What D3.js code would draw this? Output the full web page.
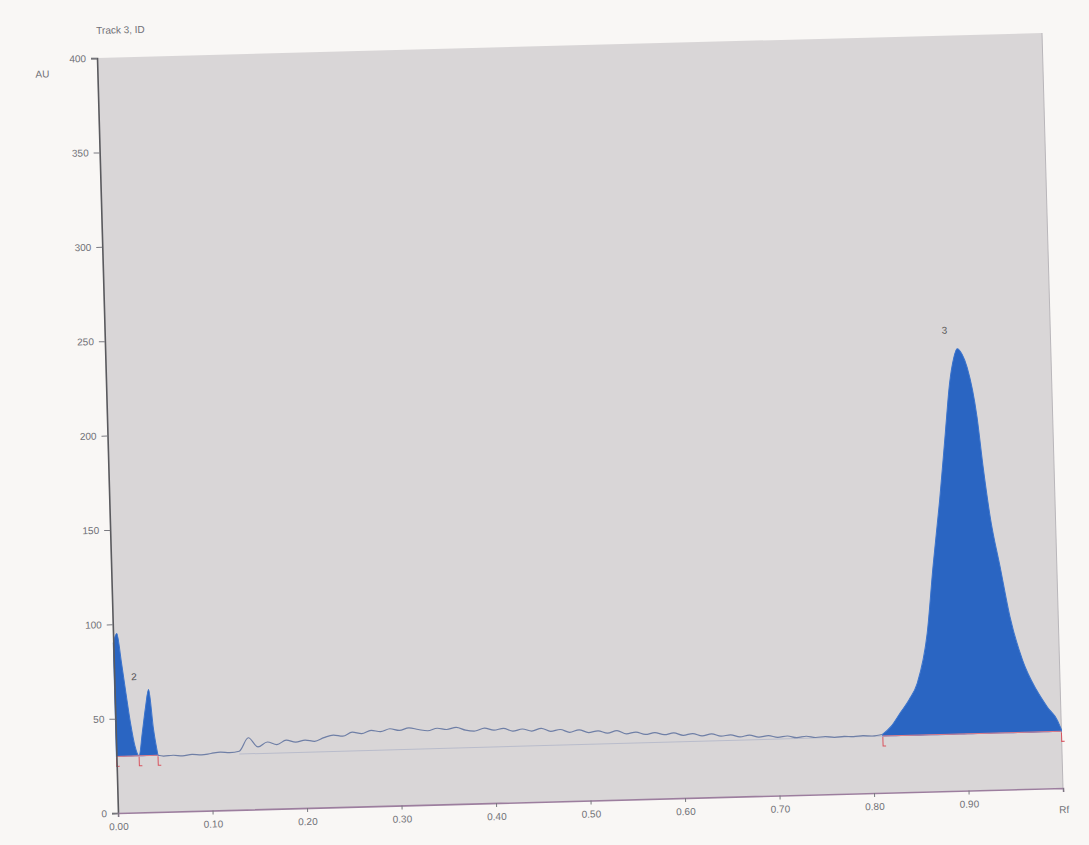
<!DOCTYPE html>
<html>
<head>
<meta charset="utf-8">
<script src="https://cdn.jsdelivr.net/npm/d3@7"></script>
<style>
  body { margin: 0; background: #f9f7f5; }
  text { font-family: "Liberation Sans", Arial, sans-serif; }
</style>
</head>
<body>
<div id="chart"></div>
<script>

// y ticks (AU) and x ticks (Rf)
const yTicks = [0, 50, 100, 150, 200, 250, 300, 350, 400];
const xTicks = [0, 0.1, 0.2, 0.3, 0.4, 0.5, 0.6, 0.7, 0.8, 0.9, 1.0];
const xTickLabels = ["0.00", "0.10", "0.20", "0.30", "0.40", "0.50", "0.60", "0.70", "0.80", "0.90", "Rf"];

// peaks 1 + 2 (start of track)
const smallPeakRf = [0.000, 0.004, 0.008, 0.012, 0.016, 0.020, 0.024, 0.028, 0.032, 0.036, 0.040, 0.044];
const smallPeakAU = [90, 95, 80, 63, 47, 35, 30, 42, 55, 65, 44, 30];

// peak 3 (big one near the front)
const bigPeakRf = [0.811, 0.820, 0.830, 0.840, 0.849, 0.861, 0.869, 0.878, 0.886, 0.892, 0.897, 0.901, 0.906, 0.911, 0.920, 0.925, 0.931, 0.940, 0.949, 0.961, 0.975, 0.986, 0.996, 1.000];
const bigPeakAU = [31, 35, 42, 49, 57.6, 84, 118.8, 154, 189.6, 216, 229, 234, 231, 224, 197.6, 171, 144.5, 118, 91.3, 68.3, 52.2, 43, 36, 31];

// baseline trace between the peaks
const traceRf = [0.044, 0.05, 0.06, 0.07, 0.08, 0.09, 0.10, 0.11, 0.12, 0.13, 0.14, 0.15, 0.16, 0.17, 0.18, 0.19,
  0.20, 0.21, 0.22, 0.23, 0.24, 0.25, 0.26, 0.27, 0.28, 0.29, 0.30, 0.31, 0.32, 0.33, 0.34, 0.35, 0.36, 0.37, 0.38, 0.39,
  0.40, 0.41, 0.42, 0.43, 0.44, 0.45, 0.46, 0.47, 0.48, 0.49, 0.50, 0.51, 0.52, 0.53, 0.54, 0.55, 0.56, 0.57, 0.58, 0.59,
  0.60, 0.61, 0.62, 0.63, 0.64, 0.65, 0.66, 0.67, 0.68, 0.69, 0.70, 0.71, 0.72, 0.73, 0.74, 0.75, 0.76, 0.77, 0.78, 0.79,
  0.80, 0.811];
const traceAU = [30, 29.5, 29.8, 29.3, 30.0, 29.6, 30.2, 30.8, 30.4, 31.0, 38.0, 33.0, 35.5, 34.0, 36.2, 35.0,
  36.0, 35.2, 37.0, 38.2, 37.5, 39.5, 38.6, 40.2, 39.4, 40.8, 39.8, 41.0, 40.0, 39.2, 40.4, 39.6, 40.6, 39.0, 38.4, 39.8,
  38.6, 39.4, 37.8, 38.8, 37.6, 38.9, 37.2, 38.0, 36.4, 37.6, 36.0, 36.8, 35.4, 36.6, 34.8, 35.6, 34.2, 35.0, 33.8, 34.6,
  33.2, 34.0, 32.6, 33.6, 32.2, 32.8, 31.6, 32.4, 31.2, 31.8, 30.8, 31.4, 30.4, 31.0, 30.2, 30.6, 30.0, 30.4, 30.1, 30.5,
  30.2, 31];

// faint lower baseline
const baseRf = [0.13, 0.811];
const baseAU = [29.5, 30];

// peak start/end markers, peak numbers
const markerRf = [0.0, 0.024, 0.044, 0.811, 1.0];
const peakLabelRf = [0.021, 0.888];
const peakLabelAU = [72, 244];
const peakLabels = ["2", "3"];

function densitogram() {

  let width = 945,
      height = 755,
      baseline = 30;

  function chart(selector) {

    let svg = d3.select(selector)
      .append("svg")
      .attr("width", 1089)
      .attr("height", 845);

    svg.append("rect")
      .attr("width", 1089)
      .attr("height", 845)
      .attr("fill", "#f9f7f5");

    // the scanned sheet is a bit skewed, so the whole plot gets a matrix
    let g = svg.append("g")
      .attr("transform", "matrix(1,-0.02646,0.02781,1,97,58)");

    let x = d3.scaleLinear().domain([0, 1]).range([0, width]);
    let y = d3.scaleLinear().domain([0, 400]).range([height, 0]);

    g.append("rect")
      .attr("width", width)
      .attr("height", height)
      .attr("fill", "#d9d6d7");

    g.append("line")
      .attr("x1", width).attr("x2", width)
      .attr("y1", 0).attr("y2", height)
      .attr("stroke", "#b9b6ba")
      .attr("stroke-width", 1);

    let area = d3.area()
      .x(d => x(d[0]))
      .y0(y(baseline))
      .y1(d => y(d[1]))
      .curve(d3.curveMonotoneX);

    let line = d3.line()
      .x(d => x(d[0]))
      .y(d => y(d[1]))
      .curve(d3.curveMonotoneX);

    let small = d3.zip(smallPeakRf, smallPeakAU);
    let big = d3.zip(bigPeakRf, bigPeakAU);

    g.append("path")
      .attr("d", line(d3.zip(baseRf, baseAU)))
      .attr("fill", "none")
      .attr("stroke", "#b9bccb")
      .attr("stroke-width", 1);

    g.append("path")
      .attr("d", line(d3.zip(traceRf, traceAU)))
      .attr("fill", "none")
      .attr("stroke", "#6f7fa6")
      .attr("stroke-width", 1.2);

    [small, big].forEach(pk => {
      g.append("path")
        .attr("d", area(pk))
        .attr("fill", "#2a65c2")
        .attr("stroke", "#3c74cc")
        .attr("stroke-width", 1);

      // red baseline under the integrated peak
      g.append("line")
        .attr("x1", x(pk[0][0])).attr("x2", x(pk[pk.length - 1][0]))
        .attr("y1", y(baseline)).attr("y2", y(baseline))
        .attr("stroke", "#e07c86")
        .attr("stroke-width", 1);
    });

    g.selectAll(".marker")
      .data(markerRf)
      .enter()
        .append("path")
          .attr("class", "marker")
          .attr("d", d => "M" + x(d) + "," + (y(baseline) + 1) + "v9h3")
          .attr("fill", "none")
          .attr("stroke", "#d9545f")
          .attr("stroke-width", 1);

    g.selectAll(".peak-label")
      .data(peakLabels)
      .enter()
        .append("text")
          .attr("class", "peak-label")
          .attr("x", (d, i) => x(peakLabelRf[i]))
          .attr("y", (d, i) => y(peakLabelAU[i]))
          .attr("dy", "0.35em")
          .attr("text-anchor", "middle")
          .attr("font-size", 10)
          .attr("fill", "#555")
          .text(d => d);

    // axes
    let yAxis = g.append("g")
      .call(d3.axisLeft(y).tickValues(yTicks).tickSize(6).tickPadding(5).tickFormat(d3.format("d")));

    let xAxis = g.append("g")
      .attr("transform", "translate(0," + height + ")")
      .call(d3.axisBottom(x).tickValues(xTicks).tickSize(4).tickPadding(6)
        .tickFormat((d, i) => xTickLabels[i]));

    yAxis.select(".domain").attr("stroke", "#5a5a5e").attr("stroke-width", 1.6);
    xAxis.select(".domain").attr("stroke", "#9c7e9e").attr("stroke-width", 1.6);
    g.selectAll(".tick line").attr("stroke", "#7a7a80");
    g.selectAll(".tick text")
      .attr("font-size", 10)
      .attr("font-family", "Liberation Sans, Arial, sans-serif")
      .attr("fill", "#707075");

    // the "Rf" end label sits a little lower than the numbers
    xAxis.selectAll(".tick text")
      .filter((d, i) => i === xTicks.length - 1)
      .attr("y", 18);

    g.append("text")
      .attr("x", -62)
      .attr("y", 18)
      .attr("font-size", 10)
      .attr("fill", "#707075")
      .text("AU");

    g.append("text")
      .attr("x", 0)
      .attr("y", -24)
      .attr("font-size", 10)
      .attr("fill", "#707075")
      .text("Track 3, ID");

    return chart;
  }

  return chart;
}

densitogram()("#chart");

</script>
</body>
</html>
